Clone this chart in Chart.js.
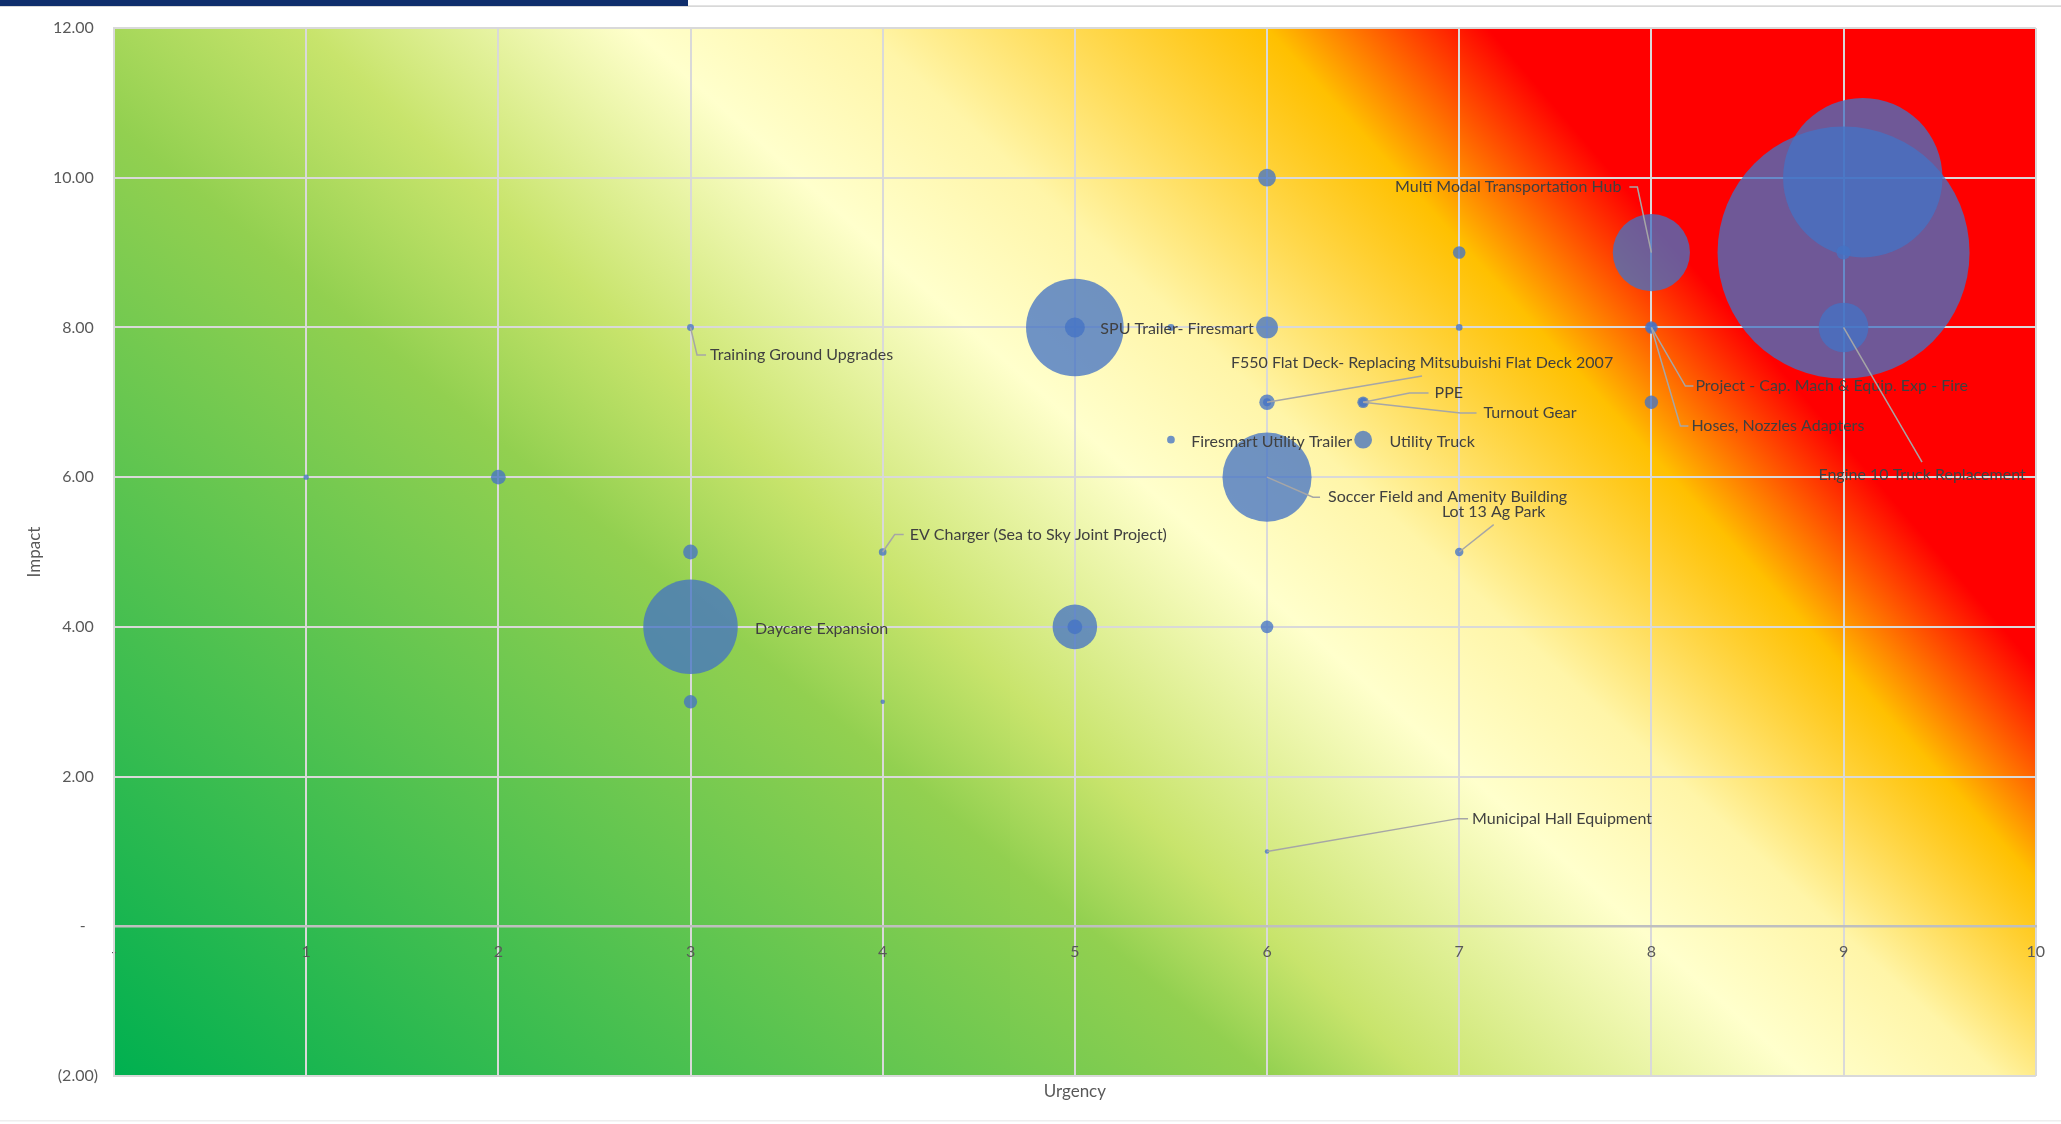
<!DOCTYPE html>
<html>
<head>
<meta charset="utf-8">
<script src="https://cdn.jsdelivr.net/npm/chart.js@4.4.1/dist/chart.umd.min.js"></script>
<style>
  html, body { margin: 0; padding: 0; background: #fff; }
  #wrap { width: 2061px; height: 1124px; }
</style>
</head>
<body>
<div id="wrap"><canvas id="riskChart" width="2061" height="1124"></canvas></div>
<script>
// project data
const urgency = [1, 2, 3, 3, 3, 3, 4, 4, 5, 5, 5.5, 5, 5, 6, 6, 6, 6, 6.5, 6.5, 5.5, 6.5, 6, 6, 6, 7, 7, 7, 8, 8, 8, 8, 9, 9.1, 9, 9];
const impact = [6, 6, 8, 5, 4, 3, 5, 3, 8, 8, 8, 4, 4, 10, 8, 7, 7, 7, 7, 6.5, 6.5, 6, 4, 1, 9, 8, 5, 9, 8, 8, 7, 9, 10, 8, 9];
// bubble size (relative budget)
const budget = [0.7, 5.5, 1.2, 5.5, 225, 4.5, 1.5, 0.5, 240, 10, 1.2, 50, 5.5, 8, 12, 6, 1.6, 3.4, 2, 1.5, 8, 200, 4, 0.5, 4, 1.1, 1.8, 150, 4, 2.5, 4.5, 1600, 640, 62, 5];
const projects = [
  "", "", "Training Ground Upgrades", "", "Daycare Expansion", "",
  "EV Charger (Sea to Sky Joint Project)", "", "", "SPU Trailer- Firesmart", "",
  "", "", "", "", "F550 Flat Deck- Replacing Mitsubuishi Flat Deck 2007", "",
  "PPE", "Turnout Gear", "Firesmart Utility Trailer", "Utility Truck",
  "Soccer Field and Amenity Building", "", "Municipal Hall Equipment", "", "",
  "Lot 13 Ag Park", "Multi Modal Transportation Hub",
  "Project - Cap. Mach & Equip. Exp - Fire", "Hoses, Nozzles Adapters", "",
  "", "", "Engine 10 Truck Replacement", ""
];
const yTicks = [-2, 0, 2, 4, 6, 8, 10, 12];

// label placement relative to its bubble (pixels)
const labelLayout = {
  2: { dx: 19.5, dy: 27.6, align: "left", lead: { e1: 13, e2: 4 } },
  4: { dx: 64.5, dy: 1.6, align: "left" },
  6: { dx: 27, dy: -17.5, align: "left", lead: { e1: 15, e2: 6 } },
  9: { dx: 25.5, dy: 1.5, align: "left" },
  15: { dx: 155, dy: -39.3, align: "center", lead: { to: "bottom", gap: 13 } },
  17: { dx: 71.4, dy: -9.3, align: "left", lead: { e1: 25, e2: 6 } },
  18: { dx: 120.4, dy: 10.7, align: "left", lead: { e1: 23, e2: 7 } },
  19: { dx: 20.3, dy: 1.9, align: "left" },
  20: { dx: 26.4, dy: 1.9, align: "left" },
  21: { dx: 61, dy: 20, align: "left", lead: { e1: 15, e2: 8 } },
  23: { dx: 205, dy: -32.8, align: "left", lead: { e1: 14, e2: 4 } },
  26: { dx: 34.5, dy: -40.4, align: "center", lead: { to: "bottom", gap: 13 } },
  27: { dx: -30, dy: -65.6, align: "right", lead: { e1: 16, e2: 8 } },
  28: { dx: 44, dy: 58.6, align: "left", lead: { e1: 10, e2: 2 } },
  29: { dx: 40, dy: 98.6, align: "left", lead: { e1: 11, e2: 3 } },
  33: { dx: 78.5, dy: 147.6, align: "center", lead: { to: "top", gap: 13 } },
};

// background colour ramp: where each colour sits along the top and bottom edge (urgency units)
const RAMP = [
  { color: "#00B050", top: -6.5, bottom: 0 },
  { color: "#92D050", top: -0.6, bottom: 6.0 },
  { color: "#C8E46C", top: 1.0, bottom: 6.8 },
  { color: "#FFFFCC", top: 2.7, bottom: 8.8 },
  { color: "#FFF5A8", top: 3.9, bottom: 9.8 },
  { color: "#FFC000", top: 6.0, bottom: 10.92 },
  { color: "#FF0000", top: 7.15, bottom: 11.83 },
];

const MAX_R = 126;
const maxBudget = Math.max(...budget);
const LABEL_FONT = "16px Lato";
const GRID = "#D9D9D9";

const heatBackground = {
  id: "heatBackground",
  beforeDraw(chart) {
    const { ctx, chartArea: a, scales } = chart;
    const x = scales.x;
    const h = a.bottom - a.top;
    ctx.save();
    for (let row = 0; row < h; row++) {
      const s = (row + 0.5) / h;
      const xs = RAMP.map((st) => x.getPixelForValue(st.top + (st.bottom - st.top) * s));
      const x0 = xs[0];
      const x1 = xs[xs.length - 1];
      const g = ctx.createLinearGradient(x0, 0, x1, 0);
      RAMP.forEach((st, i) => g.addColorStop((xs[i] - x0) / (x1 - x0), st.color));
      ctx.fillStyle = g;
      ctx.fillRect(a.left, a.top + row, a.right - a.left, 1.5);
    }
    ctx.restore();
  },
};

const bubbleLabels = {
  id: "bubbleLabels",
  afterDatasetsDraw(chart) {
    const { ctx } = chart;
    const meta = chart.getDatasetMeta(0);
    ctx.save();
    ctx.font = LABEL_FONT;
    ctx.textBaseline = "middle";
    ctx.strokeStyle = "#A6A6A6";
    ctx.lineWidth = 1.5;
    projects.forEach((name, i) => {
      const lay = labelLayout[i];
      if (!name || !lay) return;
      const pt = meta.data[i];
      const tx = pt.x + lay.dx;
      const ty = pt.y + lay.dy;
      if (lay.lead) {
        ctx.beginPath();
        ctx.moveTo(pt.x, pt.y);
        if (lay.lead.to === "bottom") {
          ctx.lineTo(tx, ty + lay.lead.gap);
        } else if (lay.lead.to === "top") {
          ctx.lineTo(tx, ty - lay.lead.gap);
        } else if (lay.align === "right") {
          ctx.lineTo(tx + lay.lead.e1, ty);
          ctx.lineTo(tx + lay.lead.e2, ty);
        } else {
          ctx.lineTo(tx - lay.lead.e1, ty);
          ctx.lineTo(tx - lay.lead.e2, ty);
        }
        ctx.stroke();
      }
      ctx.fillStyle = "#404040";
      ctx.textAlign = lay.align;
      ctx.fillText(name, tx, ty);
    });
    ctx.restore();
  },
};

const frameDecor = {
  id: "frameDecor",
  afterDraw(chart) {
    const { ctx, chartArea: a } = chart;
    ctx.save();
    // axis titles
    ctx.fillStyle = "#595959";
    ctx.font = "17px Lato";
    ctx.textAlign = "center";
    ctx.textBaseline = "middle";
    ctx.fillText("Urgency", (a.left + a.right) / 2, a.bottom + 16);
    ctx.translate(a.left - 79, (a.top + a.bottom) / 2);
    ctx.rotate(-Math.PI / 2);
    ctx.fillText("Impact", 0, 0);
    ctx.restore();

    // page bits around the chart
    ctx.save();
    ctx.fillStyle = "#C8C8C8";
    ctx.fillRect(0, 5.5, chart.width, 1.2);
    ctx.fillStyle = "#0F2E6C";
    ctx.fillRect(0, 0, 688, 6);
    ctx.fillStyle = "#EEEEEE";
    ctx.fillRect(0, 1120, chart.width, 1.5);
    ctx.restore();
  },
};

document.addEventListener("DOMContentLoaded", function () {
  const points = urgency.map((u, i) => ({
    x: u,
    y: impact[i],
    r: MAX_R * Math.sqrt(budget[i] / maxBudget),
  }));

  const ctx = document.getElementById("riskChart").getContext("2d");
  new Chart(ctx, {
    type: "bubble",
    data: {
      datasets: [
        {
          data: points,
          backgroundColor: "rgba(68, 114, 196, 0.77)",
          borderWidth: 0,
          hoverRadius: 0,
        },
      ],
    },
    options: {
      responsive: false,
      animation: false,
      devicePixelRatio: 1,
      events: [],
      layout: { autoPadding: false, padding: { left: 0, top: 28, right: 14, bottom: 48 } },
      plugins: {
        legend: { display: false },
        tooltip: { enabled: false },
      },
      scales: {
        x: {
          type: "linear",
          min: 0,
          max: 10,
          position: { y: 0 },
          grid: { color: GRID, lineWidth: 2, drawTicks: false },
          border: { color: "#BFBFBF", width: 2.5 },
          ticks: {
            stepSize: 1,
            autoSkip: false,
            maxRotation: 0,
            padding: 16,
            color: "#595959",
            font: { family: "Lato", size: 16 },
            callback: (v) => (v === 0 ? "-" : String(v)),
          },
        },
        y: {
          type: "linear",
          min: yTicks[0],
          max: yTicks[yTicks.length - 1],
          afterFit: (scale) => {
            scale.width = 114;
          },
          afterBuildTicks: (scale) => {
            scale.ticks = yTicks.map((v) => ({ value: v }));
          },
          grid: { color: GRID, lineWidth: 2, drawTicks: false },
          border: { color: GRID, width: 2 },
          ticks: {
            padding: 16,
            color: "#595959",
            font: { family: "Lato", size: 16 },
            callback: (v) => {
              if (v === 0) return "-   ";
              if (v < 0) return "(" + Math.abs(v).toFixed(2) + ")";
              return v.toFixed(2) + " ";
            },
          },
        },
      },
    },
    plugins: [heatBackground, bubbleLabels, frameDecor],
  });
});
</script>
</body>
</html>
